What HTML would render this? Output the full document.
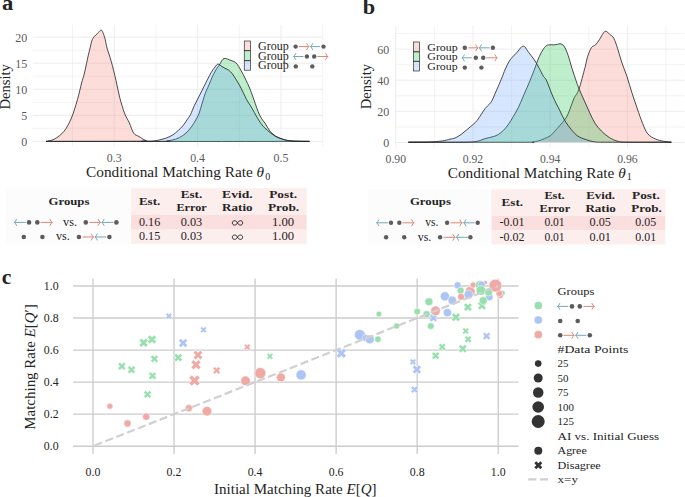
<!DOCTYPE html><html><head><meta charset="utf-8"><style>html,body{margin:0;padding:0;background:#fff;}svg{display:block;}text{font-family:"Liberation Serif",serif;}</style></head><body>
<svg width="685" height="497" viewBox="0 0 685 497" fill="#242424">
<rect width="685" height="497" fill="#fff"/>
<line x1="72.50" y1="24.8" x2="72.50" y2="147.0" stroke="#ebebeb" stroke-width="0.6"/>
<line x1="114.20" y1="24.8" x2="114.20" y2="147.0" stroke="#ebebeb" stroke-width="0.9"/>
<line x1="155.90" y1="24.8" x2="155.90" y2="147.0" stroke="#ebebeb" stroke-width="0.6"/>
<line x1="197.60" y1="24.8" x2="197.60" y2="147.0" stroke="#ebebeb" stroke-width="0.9"/>
<line x1="239.30" y1="24.8" x2="239.30" y2="147.0" stroke="#ebebeb" stroke-width="0.6"/>
<line x1="281.00" y1="24.8" x2="281.00" y2="147.0" stroke="#ebebeb" stroke-width="0.9"/>
<line x1="322.70" y1="24.8" x2="322.70" y2="147.0" stroke="#ebebeb" stroke-width="0.6"/>
<line x1="32.8" y1="141.40" x2="322.8" y2="141.40" stroke="#ebebeb" stroke-width="0.9"/>
<line x1="32.8" y1="128.38" x2="322.8" y2="128.38" stroke="#ebebeb" stroke-width="0.6"/>
<line x1="32.8" y1="115.35" x2="322.8" y2="115.35" stroke="#ebebeb" stroke-width="0.9"/>
<line x1="32.8" y1="102.33" x2="322.8" y2="102.33" stroke="#ebebeb" stroke-width="0.6"/>
<line x1="32.8" y1="89.30" x2="322.8" y2="89.30" stroke="#ebebeb" stroke-width="0.9"/>
<line x1="32.8" y1="76.28" x2="322.8" y2="76.28" stroke="#ebebeb" stroke-width="0.6"/>
<line x1="32.8" y1="63.25" x2="322.8" y2="63.25" stroke="#ebebeb" stroke-width="0.9"/>
<line x1="32.8" y1="50.23" x2="322.8" y2="50.23" stroke="#ebebeb" stroke-width="0.6"/>
<line x1="32.8" y1="37.20" x2="322.8" y2="37.20" stroke="#ebebeb" stroke-width="0.9"/>
<path d="M46.00,141.40 C47.42,141.00 51.48,140.70 54.50,139.00 C57.52,137.30 61.28,134.70 64.10,131.20 C66.92,127.70 69.18,123.23 71.40,118.00 C73.62,112.77 75.70,105.63 77.40,99.80 C79.10,93.97 80.48,87.22 81.60,83.00 C82.72,78.78 83.28,77.73 84.10,74.50 C84.92,71.27 85.80,66.82 86.50,63.60 C87.20,60.38 87.70,57.80 88.30,55.20 C88.90,52.60 89.50,50.42 90.10,48.00 C90.70,45.58 91.20,42.62 91.90,40.70 C92.60,38.78 93.35,37.72 94.30,36.50 C95.25,35.28 96.50,34.47 97.60,33.40 C98.70,32.33 100.02,30.27 100.90,30.10 C101.78,29.93 102.18,30.83 102.90,32.40 C103.62,33.97 104.52,36.90 105.20,39.50 C105.88,42.10 106.00,44.38 107.00,48.00 C108.00,51.62 109.70,55.78 111.20,61.20 C112.70,66.62 114.58,74.47 116.00,80.50 C117.42,86.53 118.28,91.97 119.70,97.40 C121.12,102.83 122.90,108.87 124.50,113.10 C126.10,117.33 127.77,119.45 129.30,122.80 C130.83,126.15 132.08,130.92 133.70,133.20 C135.32,135.48 136.92,135.27 139.00,136.50 C141.08,137.73 143.38,139.78 146.20,140.60 C149.02,141.42 128.67,141.27 155.90,141.40 C183.13,141.53 283.98,141.40 309.60,141.40 Z" fill="#F8766D" fill-opacity="0.25" stroke="none"/>
<path d="M46.00,141.40 C47.42,141.00 51.48,140.70 54.50,139.00 C57.52,137.30 61.28,134.70 64.10,131.20 C66.92,127.70 69.18,123.23 71.40,118.00 C73.62,112.77 75.70,105.63 77.40,99.80 C79.10,93.97 80.48,87.22 81.60,83.00 C82.72,78.78 83.28,77.73 84.10,74.50 C84.92,71.27 85.80,66.82 86.50,63.60 C87.20,60.38 87.70,57.80 88.30,55.20 C88.90,52.60 89.50,50.42 90.10,48.00 C90.70,45.58 91.20,42.62 91.90,40.70 C92.60,38.78 93.35,37.72 94.30,36.50 C95.25,35.28 96.50,34.47 97.60,33.40 C98.70,32.33 100.02,30.27 100.90,30.10 C101.78,29.93 102.18,30.83 102.90,32.40 C103.62,33.97 104.52,36.90 105.20,39.50 C105.88,42.10 106.00,44.38 107.00,48.00 C108.00,51.62 109.70,55.78 111.20,61.20 C112.70,66.62 114.58,74.47 116.00,80.50 C117.42,86.53 118.28,91.97 119.70,97.40 C121.12,102.83 122.90,108.87 124.50,113.10 C126.10,117.33 127.77,119.45 129.30,122.80 C130.83,126.15 132.08,130.92 133.70,133.20 C135.32,135.48 136.92,135.27 139.00,136.50 C141.08,137.73 143.38,139.78 146.20,140.60 C149.02,141.42 128.67,141.27 155.90,141.40 C183.13,141.53 283.98,141.40 309.60,141.40" fill="none" stroke="#1e1e1e" stroke-width="0.8" stroke-linejoin="round"/>
<path d="M46.00,141.40 C65.00,141.40 139.85,141.48 160.00,141.40 C180.15,141.32 164.30,141.27 166.90,140.90 C169.50,140.53 172.97,140.08 175.60,139.20 C178.23,138.32 180.80,136.78 182.70,135.60 C184.60,134.42 185.55,133.55 187.00,132.10 C188.45,130.65 189.93,128.93 191.40,126.90 C192.87,124.87 194.55,122.08 195.80,119.90 C197.05,117.72 197.98,116.12 198.90,113.80 C199.82,111.48 200.25,109.37 201.30,106.00 C202.35,102.63 203.95,97.07 205.20,93.60 C206.45,90.13 207.60,88.02 208.80,85.20 C210.00,82.38 211.18,79.32 212.40,76.70 C213.62,74.08 214.98,71.40 216.10,69.50 C217.22,67.60 218.30,66.52 219.10,65.30 C219.90,64.08 220.25,63.22 220.90,62.20 C221.55,61.18 222.27,59.83 223.00,59.20 C223.73,58.57 224.17,58.27 225.30,58.40 C226.43,58.53 228.33,59.47 229.80,60.00 C231.27,60.53 232.88,60.92 234.10,61.60 C235.32,62.28 236.10,62.88 237.10,64.10 C238.10,65.32 239.10,67.20 240.10,68.90 C241.10,70.60 242.10,72.38 243.10,74.30 C244.10,76.22 245.08,78.28 246.10,80.40 C247.12,82.52 248.18,84.58 249.20,87.00 C250.22,89.42 251.20,92.18 252.20,94.90 C253.20,97.62 254.20,100.48 255.20,103.30 C256.20,106.12 257.15,109.27 258.20,111.80 C259.25,114.33 260.33,116.57 261.50,118.50 C262.67,120.43 263.80,121.32 265.20,123.40 C266.60,125.48 268.15,128.87 269.90,131.00 C271.65,133.13 273.57,134.85 275.70,136.20 C277.83,137.55 280.17,138.32 282.70,139.10 C285.23,139.88 286.42,140.52 290.90,140.90 C295.38,141.28 306.48,141.32 309.60,141.40 Z" fill="#00BA38" fill-opacity="0.25" stroke="none"/>
<path d="M46.00,141.40 C65.00,141.40 139.85,141.48 160.00,141.40 C180.15,141.32 164.30,141.27 166.90,140.90 C169.50,140.53 172.97,140.08 175.60,139.20 C178.23,138.32 180.80,136.78 182.70,135.60 C184.60,134.42 185.55,133.55 187.00,132.10 C188.45,130.65 189.93,128.93 191.40,126.90 C192.87,124.87 194.55,122.08 195.80,119.90 C197.05,117.72 197.98,116.12 198.90,113.80 C199.82,111.48 200.25,109.37 201.30,106.00 C202.35,102.63 203.95,97.07 205.20,93.60 C206.45,90.13 207.60,88.02 208.80,85.20 C210.00,82.38 211.18,79.32 212.40,76.70 C213.62,74.08 214.98,71.40 216.10,69.50 C217.22,67.60 218.30,66.52 219.10,65.30 C219.90,64.08 220.25,63.22 220.90,62.20 C221.55,61.18 222.27,59.83 223.00,59.20 C223.73,58.57 224.17,58.27 225.30,58.40 C226.43,58.53 228.33,59.47 229.80,60.00 C231.27,60.53 232.88,60.92 234.10,61.60 C235.32,62.28 236.10,62.88 237.10,64.10 C238.10,65.32 239.10,67.20 240.10,68.90 C241.10,70.60 242.10,72.38 243.10,74.30 C244.10,76.22 245.08,78.28 246.10,80.40 C247.12,82.52 248.18,84.58 249.20,87.00 C250.22,89.42 251.20,92.18 252.20,94.90 C253.20,97.62 254.20,100.48 255.20,103.30 C256.20,106.12 257.15,109.27 258.20,111.80 C259.25,114.33 260.33,116.57 261.50,118.50 C262.67,120.43 263.80,121.32 265.20,123.40 C266.60,125.48 268.15,128.87 269.90,131.00 C271.65,133.13 273.57,134.85 275.70,136.20 C277.83,137.55 280.17,138.32 282.70,139.10 C285.23,139.88 286.42,140.52 290.90,140.90 C295.38,141.28 306.48,141.32 309.60,141.40" fill="none" stroke="#1e1e1e" stroke-width="0.8" stroke-linejoin="round"/>
<path d="M46.00,141.40 C61.67,141.38 122.03,141.38 140.00,141.30 C157.97,141.22 150.33,141.18 153.80,140.90 C157.27,140.62 158.62,140.12 160.80,139.60 C162.98,139.08 164.87,138.60 166.90,137.80 C168.93,137.00 171.10,136.03 173.00,134.80 C174.90,133.57 176.68,131.87 178.30,130.40 C179.92,128.93 181.25,127.75 182.70,126.00 C184.15,124.25 185.70,121.80 187.00,119.90 C188.30,118.00 189.28,116.97 190.50,114.60 C191.72,112.23 192.85,108.78 194.30,105.70 C195.75,102.62 197.58,99.32 199.20,96.10 C200.82,92.88 202.60,89.22 204.00,86.40 C205.40,83.58 206.40,81.52 207.60,79.20 C208.80,76.88 209.98,74.52 211.20,72.50 C212.42,70.48 213.78,68.50 214.90,67.10 C216.02,65.70 216.77,64.23 217.90,64.10 C219.03,63.97 220.52,65.60 221.70,66.30 C222.88,67.00 223.85,67.67 225.00,68.30 C226.15,68.93 227.40,69.20 228.60,70.10 C229.80,71.00 230.98,72.18 232.20,73.70 C233.42,75.22 234.68,77.28 235.90,79.20 C237.12,81.12 238.30,83.00 239.50,85.20 C240.70,87.40 241.90,89.98 243.10,92.40 C244.30,94.82 245.48,97.48 246.70,99.70 C247.92,101.92 249.18,103.68 250.40,105.70 C251.62,107.72 253.10,110.22 254.00,111.80 C254.90,113.38 254.52,113.08 255.80,115.20 C257.08,117.32 259.75,121.97 261.70,124.50 C263.65,127.03 265.55,128.65 267.50,130.40 C269.45,132.15 271.25,133.65 273.40,135.00 C275.55,136.35 277.48,137.52 280.40,138.50 C283.32,139.48 286.03,140.42 290.90,140.90 C295.77,141.38 306.48,141.32 309.60,141.40 Z" fill="#619CFF" fill-opacity="0.25" stroke="none"/>
<path d="M46.00,141.40 C61.67,141.38 122.03,141.38 140.00,141.30 C157.97,141.22 150.33,141.18 153.80,140.90 C157.27,140.62 158.62,140.12 160.80,139.60 C162.98,139.08 164.87,138.60 166.90,137.80 C168.93,137.00 171.10,136.03 173.00,134.80 C174.90,133.57 176.68,131.87 178.30,130.40 C179.92,128.93 181.25,127.75 182.70,126.00 C184.15,124.25 185.70,121.80 187.00,119.90 C188.30,118.00 189.28,116.97 190.50,114.60 C191.72,112.23 192.85,108.78 194.30,105.70 C195.75,102.62 197.58,99.32 199.20,96.10 C200.82,92.88 202.60,89.22 204.00,86.40 C205.40,83.58 206.40,81.52 207.60,79.20 C208.80,76.88 209.98,74.52 211.20,72.50 C212.42,70.48 213.78,68.50 214.90,67.10 C216.02,65.70 216.77,64.23 217.90,64.10 C219.03,63.97 220.52,65.60 221.70,66.30 C222.88,67.00 223.85,67.67 225.00,68.30 C226.15,68.93 227.40,69.20 228.60,70.10 C229.80,71.00 230.98,72.18 232.20,73.70 C233.42,75.22 234.68,77.28 235.90,79.20 C237.12,81.12 238.30,83.00 239.50,85.20 C240.70,87.40 241.90,89.98 243.10,92.40 C244.30,94.82 245.48,97.48 246.70,99.70 C247.92,101.92 249.18,103.68 250.40,105.70 C251.62,107.72 253.10,110.22 254.00,111.80 C254.90,113.38 254.52,113.08 255.80,115.20 C257.08,117.32 259.75,121.97 261.70,124.50 C263.65,127.03 265.55,128.65 267.50,130.40 C269.45,132.15 271.25,133.65 273.40,135.00 C275.55,136.35 277.48,137.52 280.40,138.50 C283.32,139.48 286.03,140.42 290.90,140.90 C295.77,141.38 306.48,141.32 309.60,141.40" fill="none" stroke="#1e1e1e" stroke-width="0.8" stroke-linejoin="round"/>
<text x="27.20" y="146.30" font-size="12" fill="#5a5a5a" text-anchor="end">0</text>
<text x="27.20" y="120.25" font-size="12" fill="#5a5a5a" text-anchor="end">5</text>
<text x="27.20" y="94.20" font-size="12" fill="#5a5a5a" text-anchor="end">10</text>
<text x="27.20" y="68.15" font-size="12" fill="#5a5a5a" text-anchor="end">15</text>
<text x="27.20" y="42.10" font-size="12" fill="#5a5a5a" text-anchor="end">20</text>
<text x="114.20" y="161.60" font-size="12" fill="#5a5a5a" text-anchor="middle" textLength="14.80" lengthAdjust="spacingAndGlyphs">0.3</text>
<text x="197.60" y="161.60" font-size="12" fill="#5a5a5a" text-anchor="middle" textLength="14.80" lengthAdjust="spacingAndGlyphs">0.4</text>
<text x="281.00" y="161.60" font-size="12" fill="#5a5a5a" text-anchor="middle" textLength="14.80" lengthAdjust="spacingAndGlyphs">0.5</text>
<text x="86.1" y="176.9" font-size="15.2" textLength="178" lengthAdjust="spacingAndGlyphs">Conditional Matching Rate <tspan font-style="italic">θ</tspan></text>
<text x="265.30" y="179.50" font-size="10" fill="#242424">0</text>
<text transform="translate(9.8,86.8) rotate(-90)" x="0" y="0" font-size="14.4" text-anchor="middle" textLength="45.2" lengthAdjust="spacingAndGlyphs">Density</text>
<text x="2.00" y="9.90" font-size="20" fill="#242424" font-weight="bold" textLength="11.30" lengthAdjust="spacingAndGlyphs">a</text>
<rect x="244.3" y="41.0" width="6.2" height="9.70" fill="#F8766D" fill-opacity="0.25" stroke="#3a3a3a" stroke-width="0.75"/>
<rect x="244.3" y="50.7" width="6.2" height="10.00" fill="#00BA38" fill-opacity="0.25" stroke="#3a3a3a" stroke-width="0.75"/>
<rect x="244.3" y="60.7" width="6.2" height="9.50" fill="#619CFF" fill-opacity="0.25" stroke="#3a3a3a" stroke-width="0.75"/>
<text x="258.10" y="49.80" font-size="11.6" fill="#242424" textLength="30.80" lengthAdjust="spacingAndGlyphs">Group</text>
<text x="258.10" y="59.60" font-size="11.6" fill="#242424" textLength="30.80" lengthAdjust="spacingAndGlyphs">Group</text>
<text x="258.10" y="68.80" font-size="11.6" fill="#242424" textLength="30.80" lengthAdjust="spacingAndGlyphs">Group</text>
<circle cx="295.60" cy="46.60" r="2.2" fill="#5c5c5c"/>
<path d="M299.10,46.60 L308.60,46.60 M306.80,43.60 Q307.85,45.70 308.90,46.60 Q307.85,47.50 306.80,49.60" fill="none" stroke="#d8715c" stroke-width="0.85" stroke-linecap="round" stroke-linejoin="round"/>
<path d="M319.70,46.60 L310.90,46.60 M312.70,43.60 Q311.65,45.70 310.60,46.60 Q311.65,47.50 312.70,49.60" fill="none" stroke="#5a97ae" stroke-width="0.85" stroke-linecap="round" stroke-linejoin="round"/>
<circle cx="323.50" cy="46.60" r="2.2" fill="#5c5c5c"/>
<path d="M303.10,56.50 L294.00,56.50 M295.80,53.50 Q294.75,55.60 293.70,56.50 Q294.75,57.40 295.80,59.50" fill="none" stroke="#5a97ae" stroke-width="0.85" stroke-linecap="round" stroke-linejoin="round"/>
<circle cx="306.90" cy="56.50" r="2.2" fill="#5c5c5c"/>
<circle cx="314.20" cy="56.50" r="2.2" fill="#5c5c5c"/>
<path d="M317.80,56.50 L327.50,56.50 M325.70,53.50 Q326.75,55.60 327.80,56.50 Q326.75,57.40 325.70,59.50" fill="none" stroke="#d8715c" stroke-width="0.85" stroke-linecap="round" stroke-linejoin="round"/>
<circle cx="295.80" cy="66.40" r="2.2" fill="#5c5c5c"/>
<circle cx="312.30" cy="66.40" r="2.2" fill="#5c5c5c"/>
<line x1="395.80" y1="25.8" x2="395.80" y2="147.7" stroke="#ebebeb" stroke-width="0.9"/>
<line x1="434.40" y1="25.8" x2="434.40" y2="147.7" stroke="#ebebeb" stroke-width="0.6"/>
<line x1="473.00" y1="25.8" x2="473.00" y2="147.7" stroke="#ebebeb" stroke-width="0.9"/>
<line x1="511.60" y1="25.8" x2="511.60" y2="147.7" stroke="#ebebeb" stroke-width="0.6"/>
<line x1="550.20" y1="25.8" x2="550.20" y2="147.7" stroke="#ebebeb" stroke-width="0.9"/>
<line x1="588.80" y1="25.8" x2="588.80" y2="147.7" stroke="#ebebeb" stroke-width="0.6"/>
<line x1="627.40" y1="25.8" x2="627.40" y2="147.7" stroke="#ebebeb" stroke-width="0.9"/>
<line x1="666.00" y1="25.8" x2="666.00" y2="147.7" stroke="#ebebeb" stroke-width="0.6"/>
<line x1="395.2" y1="142.50" x2="684.5" y2="142.50" stroke="#ebebeb" stroke-width="0.9"/>
<line x1="395.2" y1="126.93" x2="684.5" y2="126.93" stroke="#ebebeb" stroke-width="0.6"/>
<line x1="395.2" y1="111.36" x2="684.5" y2="111.36" stroke="#ebebeb" stroke-width="0.9"/>
<line x1="395.2" y1="95.79" x2="684.5" y2="95.79" stroke="#ebebeb" stroke-width="0.6"/>
<line x1="395.2" y1="80.22" x2="684.5" y2="80.22" stroke="#ebebeb" stroke-width="0.9"/>
<line x1="395.2" y1="64.65" x2="684.5" y2="64.65" stroke="#ebebeb" stroke-width="0.6"/>
<line x1="395.2" y1="49.08" x2="684.5" y2="49.08" stroke="#ebebeb" stroke-width="0.9"/>
<line x1="395.2" y1="33.51" x2="684.5" y2="33.51" stroke="#ebebeb" stroke-width="0.6"/>
<path d="M408.30,142.20 C427.25,142.20 501.27,142.23 522.00,142.20 C542.73,142.17 529.95,142.23 532.70,142.00 C535.45,141.77 536.55,141.37 538.50,140.80 C540.45,140.23 542.40,139.47 544.40,138.60 C546.40,137.73 548.77,136.83 550.50,135.60 C552.23,134.37 553.28,132.83 554.80,131.20 C556.32,129.57 557.72,128.02 559.60,125.80 C561.48,123.58 564.35,120.73 566.10,117.90 C567.85,115.07 568.78,112.07 570.10,108.80 C571.42,105.53 572.55,101.50 574.00,98.30 C575.45,95.10 576.97,94.73 578.80,89.60 C580.63,84.47 583.53,73.00 585.00,67.50 C586.47,62.00 586.52,59.93 587.60,56.60 C588.68,53.27 590.18,49.45 591.50,47.50 C592.82,45.55 594.18,46.22 595.50,44.90 C596.82,43.58 598.10,41.57 599.40,39.60 C600.70,37.63 602.22,34.48 603.30,33.10 C604.38,31.72 604.80,31.08 605.90,31.30 C607.00,31.52 608.58,33.23 609.90,34.40 C611.22,35.57 612.50,35.90 613.80,38.30 C615.10,40.70 616.40,44.87 617.70,48.80 C619.00,52.73 620.07,57.32 621.60,61.90 C623.13,66.48 625.15,71.07 626.90,76.30 C628.65,81.53 630.35,87.85 632.10,93.30 C633.85,98.75 635.65,103.98 637.40,109.00 C639.15,114.02 640.87,119.25 642.60,123.40 C644.33,127.55 645.62,131.28 647.80,133.90 C649.98,136.52 653.08,137.88 655.70,139.10 C658.32,140.32 660.88,140.68 663.50,141.20 C666.12,141.72 670.08,142.03 671.40,142.20 Z" fill="#F8766D" fill-opacity="0.25" stroke="none"/>
<path d="M408.30,142.20 C427.25,142.20 501.27,142.23 522.00,142.20 C542.73,142.17 529.95,142.23 532.70,142.00 C535.45,141.77 536.55,141.37 538.50,140.80 C540.45,140.23 542.40,139.47 544.40,138.60 C546.40,137.73 548.77,136.83 550.50,135.60 C552.23,134.37 553.28,132.83 554.80,131.20 C556.32,129.57 557.72,128.02 559.60,125.80 C561.48,123.58 564.35,120.73 566.10,117.90 C567.85,115.07 568.78,112.07 570.10,108.80 C571.42,105.53 572.55,101.50 574.00,98.30 C575.45,95.10 576.97,94.73 578.80,89.60 C580.63,84.47 583.53,73.00 585.00,67.50 C586.47,62.00 586.52,59.93 587.60,56.60 C588.68,53.27 590.18,49.45 591.50,47.50 C592.82,45.55 594.18,46.22 595.50,44.90 C596.82,43.58 598.10,41.57 599.40,39.60 C600.70,37.63 602.22,34.48 603.30,33.10 C604.38,31.72 604.80,31.08 605.90,31.30 C607.00,31.52 608.58,33.23 609.90,34.40 C611.22,35.57 612.50,35.90 613.80,38.30 C615.10,40.70 616.40,44.87 617.70,48.80 C619.00,52.73 620.07,57.32 621.60,61.90 C623.13,66.48 625.15,71.07 626.90,76.30 C628.65,81.53 630.35,87.85 632.10,93.30 C633.85,98.75 635.65,103.98 637.40,109.00 C639.15,114.02 640.87,119.25 642.60,123.40 C644.33,127.55 645.62,131.28 647.80,133.90 C649.98,136.52 653.08,137.88 655.70,139.10 C658.32,140.32 660.88,140.68 663.50,141.20 C666.12,141.72 670.08,142.03 671.40,142.20" fill="none" stroke="#1e1e1e" stroke-width="0.8" stroke-linejoin="round"/>
<path d="M408.30,142.20 C416.15,142.20 444.27,142.30 455.40,142.20 C466.53,142.10 470.13,142.20 475.10,141.60 C480.07,141.00 482.18,139.43 485.20,138.60 C488.22,137.77 491.02,137.28 493.20,136.60 C495.38,135.92 496.62,135.52 498.30,134.50 C499.98,133.48 501.63,132.17 503.30,130.50 C504.97,128.83 506.62,126.85 508.30,124.50 C509.98,122.15 511.72,119.25 513.40,116.40 C515.08,113.55 516.90,110.42 518.40,107.40 C519.90,104.38 521.22,101.03 522.40,98.30 C523.58,95.57 524.43,93.47 525.50,91.00 C526.57,88.53 527.38,86.92 528.80,83.50 C530.22,80.08 532.25,74.98 534.00,70.50 C535.75,66.02 537.55,60.43 539.30,56.60 C541.05,52.77 542.98,49.45 544.50,47.50 C546.02,45.55 546.87,45.33 548.40,44.90 C549.93,44.47 552.18,45.00 553.70,44.90 C555.22,44.80 556.42,44.48 557.50,44.30 C558.58,44.12 559.10,43.48 560.20,43.80 C561.30,44.12 562.78,44.28 564.10,46.20 C565.42,48.12 566.78,51.60 568.10,55.30 C569.42,59.00 570.70,64.25 572.00,68.40 C573.30,72.55 574.70,76.73 575.90,80.20 C577.10,83.67 577.78,85.75 579.20,89.20 C580.62,92.65 582.65,96.98 584.40,100.90 C586.15,104.82 587.95,109.00 589.70,112.70 C591.45,116.40 592.95,120.05 594.90,123.10 C596.85,126.15 599.00,128.60 601.40,131.00 C603.80,133.40 606.47,135.77 609.30,137.50 C612.13,139.23 615.03,140.62 618.40,141.40 C621.77,142.18 620.67,142.07 629.50,142.20 C638.33,142.33 664.42,142.20 671.40,142.20 Z" fill="#00BA38" fill-opacity="0.25" stroke="none"/>
<path d="M408.30,142.20 C416.15,142.20 444.27,142.30 455.40,142.20 C466.53,142.10 470.13,142.20 475.10,141.60 C480.07,141.00 482.18,139.43 485.20,138.60 C488.22,137.77 491.02,137.28 493.20,136.60 C495.38,135.92 496.62,135.52 498.30,134.50 C499.98,133.48 501.63,132.17 503.30,130.50 C504.97,128.83 506.62,126.85 508.30,124.50 C509.98,122.15 511.72,119.25 513.40,116.40 C515.08,113.55 516.90,110.42 518.40,107.40 C519.90,104.38 521.22,101.03 522.40,98.30 C523.58,95.57 524.43,93.47 525.50,91.00 C526.57,88.53 527.38,86.92 528.80,83.50 C530.22,80.08 532.25,74.98 534.00,70.50 C535.75,66.02 537.55,60.43 539.30,56.60 C541.05,52.77 542.98,49.45 544.50,47.50 C546.02,45.55 546.87,45.33 548.40,44.90 C549.93,44.47 552.18,45.00 553.70,44.90 C555.22,44.80 556.42,44.48 557.50,44.30 C558.58,44.12 559.10,43.48 560.20,43.80 C561.30,44.12 562.78,44.28 564.10,46.20 C565.42,48.12 566.78,51.60 568.10,55.30 C569.42,59.00 570.70,64.25 572.00,68.40 C573.30,72.55 574.70,76.73 575.90,80.20 C577.10,83.67 577.78,85.75 579.20,89.20 C580.62,92.65 582.65,96.98 584.40,100.90 C586.15,104.82 587.95,109.00 589.70,112.70 C591.45,116.40 592.95,120.05 594.90,123.10 C596.85,126.15 599.00,128.60 601.40,131.00 C603.80,133.40 606.47,135.77 609.30,137.50 C612.13,139.23 615.03,140.62 618.40,141.40 C621.77,142.18 620.67,142.07 629.50,142.20 C638.33,142.33 664.42,142.20 671.40,142.20" fill="none" stroke="#1e1e1e" stroke-width="0.8" stroke-linejoin="round"/>
<path d="M408.30,142.20 C411.80,142.17 423.63,142.22 429.30,142.00 C434.97,141.78 438.85,141.37 442.30,140.90 C445.75,140.43 447.88,139.68 450.00,139.20 C452.12,138.72 453.17,138.78 455.00,138.00 C456.83,137.22 458.98,135.92 461.00,134.50 C463.02,133.08 465.08,131.17 467.10,129.50 C469.12,127.83 471.43,126.00 473.10,124.50 C474.77,123.00 475.75,122.18 477.10,120.50 C478.45,118.82 479.85,116.42 481.20,114.40 C482.55,112.38 483.87,110.07 485.20,108.40 C486.53,106.73 488.03,105.75 489.20,104.40 C490.37,103.05 491.20,102.15 492.20,100.30 C493.20,98.45 494.18,95.65 495.20,93.30 C496.22,90.95 497.28,88.55 498.30,86.20 C499.32,83.85 500.13,82.05 501.30,79.20 C502.47,76.35 503.97,72.12 505.30,69.10 C506.63,66.08 507.95,63.27 509.30,61.10 C510.65,58.93 512.05,57.62 513.40,56.10 C514.75,54.58 516.20,53.38 517.40,52.00 C518.60,50.62 519.73,48.75 520.60,47.80 C521.47,46.85 521.88,46.45 522.60,46.30 C523.32,46.15 523.87,45.83 524.90,46.90 C525.93,47.97 527.28,50.63 528.80,52.70 C530.32,54.77 532.25,56.68 534.00,59.30 C535.75,61.92 537.77,65.62 539.30,68.40 C540.83,71.18 542.00,73.98 543.20,76.00 C544.40,78.02 544.85,77.00 546.50,80.50 C548.15,84.00 550.92,92.07 553.10,97.00 C555.28,101.93 557.65,106.18 559.60,110.10 C561.55,114.02 562.83,117.23 564.80,120.50 C566.77,123.77 569.22,127.08 571.40,129.70 C573.58,132.32 575.50,134.57 577.90,136.20 C580.30,137.83 582.97,138.55 585.80,139.50 C588.63,140.45 590.87,141.45 594.90,141.90 C598.93,142.35 597.25,142.15 610.00,142.20 C622.75,142.25 661.17,142.20 671.40,142.20 Z" fill="#619CFF" fill-opacity="0.25" stroke="none"/>
<path d="M408.30,142.20 C411.80,142.17 423.63,142.22 429.30,142.00 C434.97,141.78 438.85,141.37 442.30,140.90 C445.75,140.43 447.88,139.68 450.00,139.20 C452.12,138.72 453.17,138.78 455.00,138.00 C456.83,137.22 458.98,135.92 461.00,134.50 C463.02,133.08 465.08,131.17 467.10,129.50 C469.12,127.83 471.43,126.00 473.10,124.50 C474.77,123.00 475.75,122.18 477.10,120.50 C478.45,118.82 479.85,116.42 481.20,114.40 C482.55,112.38 483.87,110.07 485.20,108.40 C486.53,106.73 488.03,105.75 489.20,104.40 C490.37,103.05 491.20,102.15 492.20,100.30 C493.20,98.45 494.18,95.65 495.20,93.30 C496.22,90.95 497.28,88.55 498.30,86.20 C499.32,83.85 500.13,82.05 501.30,79.20 C502.47,76.35 503.97,72.12 505.30,69.10 C506.63,66.08 507.95,63.27 509.30,61.10 C510.65,58.93 512.05,57.62 513.40,56.10 C514.75,54.58 516.20,53.38 517.40,52.00 C518.60,50.62 519.73,48.75 520.60,47.80 C521.47,46.85 521.88,46.45 522.60,46.30 C523.32,46.15 523.87,45.83 524.90,46.90 C525.93,47.97 527.28,50.63 528.80,52.70 C530.32,54.77 532.25,56.68 534.00,59.30 C535.75,61.92 537.77,65.62 539.30,68.40 C540.83,71.18 542.00,73.98 543.20,76.00 C544.40,78.02 544.85,77.00 546.50,80.50 C548.15,84.00 550.92,92.07 553.10,97.00 C555.28,101.93 557.65,106.18 559.60,110.10 C561.55,114.02 562.83,117.23 564.80,120.50 C566.77,123.77 569.22,127.08 571.40,129.70 C573.58,132.32 575.50,134.57 577.90,136.20 C580.30,137.83 582.97,138.55 585.80,139.50 C588.63,140.45 590.87,141.45 594.90,141.90 C598.93,142.35 597.25,142.15 610.00,142.20 C622.75,142.25 661.17,142.20 671.40,142.20" fill="none" stroke="#1e1e1e" stroke-width="0.8" stroke-linejoin="round"/>
<text x="389.20" y="147.10" font-size="12" fill="#5a5a5a" text-anchor="end">0</text>
<text x="389.20" y="115.96" font-size="12" fill="#5a5a5a" text-anchor="end">20</text>
<text x="389.20" y="84.82" font-size="12" fill="#5a5a5a" text-anchor="end">40</text>
<text x="389.20" y="53.68" font-size="12" fill="#5a5a5a" text-anchor="end">60</text>
<text x="395.80" y="162.80" font-size="11.8" fill="#5a5a5a" text-anchor="middle" textLength="20.40" lengthAdjust="spacingAndGlyphs">0.90</text>
<text x="473.00" y="162.80" font-size="11.8" fill="#5a5a5a" text-anchor="middle" textLength="20.40" lengthAdjust="spacingAndGlyphs">0.92</text>
<text x="550.20" y="162.80" font-size="11.8" fill="#5a5a5a" text-anchor="middle" textLength="20.40" lengthAdjust="spacingAndGlyphs">0.94</text>
<text x="627.40" y="162.80" font-size="11.8" fill="#5a5a5a" text-anchor="middle" textLength="20.40" lengthAdjust="spacingAndGlyphs">0.96</text>
<text x="447.7" y="177.5" font-size="15.2" textLength="178" lengthAdjust="spacingAndGlyphs">Conditional Matching Rate <tspan font-style="italic">θ</tspan></text>
<text x="626.80" y="180.10" font-size="10" fill="#242424">1</text>
<text transform="translate(371.2,86.6) rotate(-90)" x="0" y="0" font-size="14.4" text-anchor="middle" textLength="45.2" lengthAdjust="spacingAndGlyphs">Density</text>
<text x="362.80" y="14.10" font-size="20" fill="#242424" font-weight="bold" textLength="12.40" lengthAdjust="spacingAndGlyphs">b</text>
<rect x="413.6" y="42.0" width="6.0" height="9.80" fill="#F8766D" fill-opacity="0.25" stroke="#3a3a3a" stroke-width="0.75"/>
<rect x="413.6" y="51.8" width="6.0" height="9.50" fill="#00BA38" fill-opacity="0.25" stroke="#3a3a3a" stroke-width="0.75"/>
<rect x="413.6" y="61.3" width="6.0" height="9.70" fill="#619CFF" fill-opacity="0.25" stroke="#3a3a3a" stroke-width="0.75"/>
<text x="427.30" y="50.70" font-size="11.4" fill="#242424" textLength="30.40" lengthAdjust="spacingAndGlyphs">Group</text>
<text x="427.30" y="60.20" font-size="11.4" fill="#242424" textLength="30.40" lengthAdjust="spacingAndGlyphs">Group</text>
<text x="427.30" y="69.60" font-size="11.4" fill="#242424" textLength="30.40" lengthAdjust="spacingAndGlyphs">Group</text>
<circle cx="464.80" cy="47.80" r="2.2" fill="#5c5c5c"/>
<path d="M468.70,47.80 L477.60,47.80 M475.80,44.80 Q476.85,46.90 477.90,47.80 Q476.85,48.70 475.80,50.80" fill="none" stroke="#d8715c" stroke-width="0.85" stroke-linecap="round" stroke-linejoin="round"/>
<path d="M489.20,47.80 L479.60,47.80 M481.40,44.80 Q480.35,46.90 479.30,47.80 Q480.35,48.70 481.40,50.80" fill="none" stroke="#5a97ae" stroke-width="0.85" stroke-linecap="round" stroke-linejoin="round"/>
<circle cx="492.90" cy="47.80" r="2.2" fill="#5c5c5c"/>
<path d="M471.40,57.80 L462.50,57.80 M464.30,54.80 Q463.25,56.90 462.20,57.80 Q463.25,58.70 464.30,60.80" fill="none" stroke="#5a97ae" stroke-width="0.85" stroke-linecap="round" stroke-linejoin="round"/>
<circle cx="475.80" cy="57.80" r="2.2" fill="#5c5c5c"/>
<circle cx="483.20" cy="57.80" r="2.2" fill="#5c5c5c"/>
<path d="M486.60,57.80 L496.80,57.80 M495.00,54.80 Q496.05,56.90 497.10,57.80 Q496.05,58.70 495.00,60.80" fill="none" stroke="#d8715c" stroke-width="0.85" stroke-linecap="round" stroke-linejoin="round"/>
<circle cx="464.80" cy="67.60" r="2.2" fill="#5c5c5c"/>
<circle cx="481.40" cy="67.60" r="2.2" fill="#5c5c5c"/>
<rect x="6.1" y="188" width="300.6" height="55.8" fill="#fcfcfc"/>
<rect x="368.2" y="189.2" width="297" height="54.3" fill="#fcfcfc"/>
<rect x="131.1" y="188.2" width="175.60" height="26.80" fill="#fdeeee"/>
<rect x="131.1" y="215.0" width="175.60" height="14.60" fill="#fbdede"/>
<rect x="131.1" y="229.6" width="175.60" height="14.20" fill="#fdeeee"/>
<rect x="491.6" y="189.2" width="173.70" height="26.80" fill="#fdeeee"/>
<rect x="491.6" y="216.0" width="173.70" height="14.30" fill="#fbdede"/>
<rect x="491.6" y="230.3" width="173.70" height="14.30" fill="#fdeeee"/>
<text x="48.60" y="204.80" font-size="11.2" fill="#242424" font-weight="bold" textLength="40.80" lengthAdjust="spacingAndGlyphs">Groups</text>
<text x="139.00" y="204.70" font-size="11.2" fill="#242424" font-weight="bold" textLength="21.20" lengthAdjust="spacingAndGlyphs">Est.</text>
<text x="180.70" y="198.10" font-size="11.2" fill="#242424" font-weight="bold" textLength="21.50" lengthAdjust="spacingAndGlyphs">Est.</text>
<text x="176.50" y="211.30" font-size="11.2" fill="#242424" font-weight="bold" textLength="30.10" lengthAdjust="spacingAndGlyphs">Error</text>
<text x="222.10" y="198.10" font-size="11.2" fill="#242424" font-weight="bold" textLength="30.50" lengthAdjust="spacingAndGlyphs">Evid.</text>
<text x="222.10" y="211.30" font-size="11.2" fill="#242424" font-weight="bold" textLength="30.50" lengthAdjust="spacingAndGlyphs">Ratio</text>
<text x="269.20" y="198.10" font-size="11.2" fill="#242424" font-weight="bold" textLength="27.80" lengthAdjust="spacingAndGlyphs">Post.</text>
<text x="267.90" y="211.30" font-size="11.2" fill="#242424" font-weight="bold" textLength="31.30" lengthAdjust="spacingAndGlyphs">Prob.</text>
<text x="139.00" y="225.60" font-size="12" fill="#242424" textLength="21.20" lengthAdjust="spacingAndGlyphs">0.16</text>
<text x="180.70" y="225.60" font-size="12" fill="#242424" textLength="21.50" lengthAdjust="spacingAndGlyphs">0.03</text>
<path d="M237.5,222.9 C238.7,220.0 242.65,220.0 242.65,222.9 C242.65,225.8 238.7,225.8 237.5,222.9 C236.3,220.0 232.35,220.0 232.35,222.9 C232.35,225.8 236.3,225.8 237.5,222.9 Z" fill="none" stroke="#111" stroke-width="0.85"/>
<text x="272.00" y="225.60" font-size="12" fill="#242424" textLength="22.20" lengthAdjust="spacingAndGlyphs">1.00</text>
<text x="139.00" y="239.90" font-size="12" fill="#242424" textLength="21.20" lengthAdjust="spacingAndGlyphs">0.15</text>
<text x="180.70" y="239.90" font-size="12" fill="#242424" textLength="21.50" lengthAdjust="spacingAndGlyphs">0.03</text>
<path d="M237.5,237.20000000000002 C238.7,234.3 242.65,234.3 242.65,237.20000000000002 C242.65,240.10000000000002 238.7,240.10000000000002 237.5,237.20000000000002 C236.3,234.3 232.35,234.3 232.35,237.20000000000002 C232.35,240.10000000000002 236.3,240.10000000000002 237.5,237.20000000000002 Z" fill="none" stroke="#111" stroke-width="0.85"/>
<text x="272.00" y="239.90" font-size="12" fill="#242424" textLength="22.20" lengthAdjust="spacingAndGlyphs">1.00</text>
<path d="M25.40,222.40 L14.70,222.40 M16.50,219.40 Q15.45,221.50 14.40,222.40 Q15.45,223.30 16.50,225.40" fill="none" stroke="#5a97ae" stroke-width="0.85" stroke-linecap="round" stroke-linejoin="round"/>
<circle cx="29.05" cy="222.40" r="2.3" fill="#5c5c5c"/>
<circle cx="37.30" cy="222.40" r="2.3" fill="#5c5c5c"/>
<path d="M40.90,222.40 L51.80,222.40 M50.00,219.40 Q51.05,221.50 52.10,222.40 Q51.05,223.30 50.00,225.40" fill="none" stroke="#d8715c" stroke-width="0.85" stroke-linecap="round" stroke-linejoin="round"/>
<text x="63.00" y="225.60" font-size="12" fill="#242424" textLength="14.00" lengthAdjust="spacingAndGlyphs">vs.</text>
<circle cx="85.80" cy="222.40" r="2.3" fill="#5c5c5c"/>
<path d="M89.90,222.40 L100.00,222.40 M98.20,219.40 Q99.25,221.50 100.30,222.40 Q99.25,223.30 98.20,225.40" fill="none" stroke="#d8715c" stroke-width="0.85" stroke-linecap="round" stroke-linejoin="round"/>
<path d="M113.10,222.40 L102.20,222.40 M104.00,219.40 Q102.95,221.50 101.90,222.40 Q102.95,223.30 104.00,225.40" fill="none" stroke="#5a97ae" stroke-width="0.85" stroke-linecap="round" stroke-linejoin="round"/>
<circle cx="116.40" cy="222.40" r="2.3" fill="#5c5c5c"/>
<circle cx="23.80" cy="237.00" r="2.3" fill="#5c5c5c"/>
<circle cx="42.40" cy="237.00" r="2.3" fill="#5c5c5c"/>
<text x="56.10" y="240.00" font-size="12" fill="#242424" textLength="13.70" lengthAdjust="spacingAndGlyphs">vs.</text>
<circle cx="78.90" cy="237.00" r="2.3" fill="#5c5c5c"/>
<path d="M83.00,237.00 L93.20,237.00 M91.40,234.00 Q92.45,236.10 93.50,237.00 Q92.45,237.90 91.40,240.00" fill="none" stroke="#d8715c" stroke-width="0.85" stroke-linecap="round" stroke-linejoin="round"/>
<path d="M105.90,237.00 L95.50,237.00 M97.30,234.00 Q96.25,236.10 95.20,237.00 Q96.25,237.90 97.30,240.00" fill="none" stroke="#5a97ae" stroke-width="0.85" stroke-linecap="round" stroke-linejoin="round"/>
<circle cx="109.40" cy="237.00" r="2.3" fill="#5c5c5c"/>
<text x="409.90" y="205.40" font-size="11.2" fill="#242424" font-weight="bold" textLength="41.00" lengthAdjust="spacingAndGlyphs">Groups</text>
<text x="501.60" y="205.60" font-size="11.2" fill="#242424" font-weight="bold" textLength="21.40" lengthAdjust="spacingAndGlyphs">Est.</text>
<text x="544.40" y="199.00" font-size="11.2" fill="#242424" font-weight="bold" textLength="20.20" lengthAdjust="spacingAndGlyphs">Est.</text>
<text x="539.60" y="212.00" font-size="11.2" fill="#242424" font-weight="bold" textLength="30.60" lengthAdjust="spacingAndGlyphs">Error</text>
<text x="586.20" y="199.00" font-size="11.2" fill="#242424" font-weight="bold" textLength="28.90" lengthAdjust="spacingAndGlyphs">Evid.</text>
<text x="585.40" y="212.00" font-size="11.2" fill="#242424" font-weight="bold" textLength="30.50" lengthAdjust="spacingAndGlyphs">Ratio</text>
<text x="632.00" y="199.00" font-size="11.2" fill="#242424" font-weight="bold" textLength="27.80" lengthAdjust="spacingAndGlyphs">Post.</text>
<text x="631.20" y="212.00" font-size="11.2" fill="#242424" font-weight="bold" textLength="30.50" lengthAdjust="spacingAndGlyphs">Prob.</text>
<text x="499.40" y="226.30" font-size="12" fill="#242424" textLength="25.00" lengthAdjust="spacingAndGlyphs">-0.01</text>
<text x="544.40" y="226.30" font-size="12" fill="#242424" textLength="20.20" lengthAdjust="spacingAndGlyphs">0.01</text>
<text x="589.60" y="226.30" font-size="12" fill="#242424" textLength="21.30" lengthAdjust="spacingAndGlyphs">0.05</text>
<text x="635.30" y="226.30" font-size="12" fill="#242424" textLength="20.80" lengthAdjust="spacingAndGlyphs">0.05</text>
<text x="499.40" y="240.80" font-size="12" fill="#242424" textLength="25.00" lengthAdjust="spacingAndGlyphs">-0.02</text>
<text x="544.40" y="240.80" font-size="12" fill="#242424" textLength="20.20" lengthAdjust="spacingAndGlyphs">0.01</text>
<text x="589.60" y="240.80" font-size="12" fill="#242424" textLength="21.30" lengthAdjust="spacingAndGlyphs">0.01</text>
<text x="635.30" y="240.80" font-size="12" fill="#242424" textLength="20.80" lengthAdjust="spacingAndGlyphs">0.01</text>
<path d="M387.50,222.80 L377.00,222.80 M378.80,219.80 Q377.75,221.90 376.70,222.80 Q377.75,223.70 378.80,225.80" fill="none" stroke="#5a97ae" stroke-width="0.85" stroke-linecap="round" stroke-linejoin="round"/>
<circle cx="391.00" cy="222.80" r="2.2" fill="#5c5c5c"/>
<circle cx="399.30" cy="222.80" r="2.2" fill="#5c5c5c"/>
<path d="M402.90,222.80 L413.50,222.80 M411.70,219.80 Q412.75,221.90 413.80,222.80 Q412.75,223.70 411.70,225.80" fill="none" stroke="#d8715c" stroke-width="0.85" stroke-linecap="round" stroke-linejoin="round"/>
<text x="425.20" y="226.30" font-size="12" fill="#242424" textLength="13.10" lengthAdjust="spacingAndGlyphs">vs.</text>
<circle cx="447.10" cy="222.80" r="2.2" fill="#5c5c5c"/>
<path d="M450.90,222.80 L461.70,222.80 M459.90,219.80 Q460.95,221.90 462.00,222.80 Q460.95,223.70 459.90,225.80" fill="none" stroke="#d8715c" stroke-width="0.85" stroke-linecap="round" stroke-linejoin="round"/>
<path d="M474.20,222.80 L464.00,222.80 M465.80,219.80 Q464.75,221.90 463.70,222.80 Q464.75,223.70 465.80,225.80" fill="none" stroke="#5a97ae" stroke-width="0.85" stroke-linecap="round" stroke-linejoin="round"/>
<circle cx="477.70" cy="222.80" r="2.2" fill="#5c5c5c"/>
<circle cx="386.10" cy="237.30" r="2.2" fill="#5c5c5c"/>
<circle cx="404.20" cy="237.30" r="2.2" fill="#5c5c5c"/>
<text x="417.70" y="240.80" font-size="12" fill="#242424" textLength="13.60" lengthAdjust="spacingAndGlyphs">vs.</text>
<circle cx="440.10" cy="237.30" r="2.2" fill="#5c5c5c"/>
<path d="M443.90,237.30 L454.70,237.30 M452.90,234.30 Q453.95,236.40 455.00,237.30 Q453.95,238.20 452.90,240.30" fill="none" stroke="#d8715c" stroke-width="0.85" stroke-linecap="round" stroke-linejoin="round"/>
<path d="M467.20,237.30 L456.70,237.30 M458.50,234.30 Q457.45,236.40 456.40,237.30 Q457.45,238.20 458.50,240.30" fill="none" stroke="#5a97ae" stroke-width="0.85" stroke-linecap="round" stroke-linejoin="round"/>
<circle cx="470.40" cy="237.30" r="2.2" fill="#5c5c5c"/>
<line x1="93.00" y1="278.4" x2="93.00" y2="454.0" stroke="#cccccc" stroke-width="1.35"/>
<line x1="73.0" y1="446.20" x2="518.6" y2="446.20" stroke="#cccccc" stroke-width="1.35"/>
<line x1="174.04" y1="278.4" x2="174.04" y2="454.0" stroke="#cccccc" stroke-width="1.35"/>
<line x1="73.0" y1="414.16" x2="518.6" y2="414.16" stroke="#cccccc" stroke-width="1.35"/>
<line x1="255.08" y1="278.4" x2="255.08" y2="454.0" stroke="#cccccc" stroke-width="1.35"/>
<line x1="73.0" y1="382.12" x2="518.6" y2="382.12" stroke="#cccccc" stroke-width="1.35"/>
<line x1="336.12" y1="278.4" x2="336.12" y2="454.0" stroke="#cccccc" stroke-width="1.35"/>
<line x1="73.0" y1="350.08" x2="518.6" y2="350.08" stroke="#cccccc" stroke-width="1.35"/>
<line x1="417.16" y1="278.4" x2="417.16" y2="454.0" stroke="#cccccc" stroke-width="1.35"/>
<line x1="73.0" y1="318.04" x2="518.6" y2="318.04" stroke="#cccccc" stroke-width="1.35"/>
<line x1="498.20" y1="278.4" x2="498.20" y2="454.0" stroke="#cccccc" stroke-width="1.35"/>
<line x1="73.0" y1="286.00" x2="518.6" y2="286.00" stroke="#cccccc" stroke-width="1.35"/>
<path d="M123.89,366.30 L125.88,368.29 L123.89,370.28 L121.90,368.29 L119.91,370.28 L117.92,368.29 L119.91,366.30 L117.92,364.31 L119.91,362.32 L121.90,364.31 L123.89,362.32 L125.88,364.31 Z" fill="#98dfae" stroke="#fff" stroke-width="0.5"/>
<path d="M133.49,369.80 L135.48,371.79 L133.49,373.78 L131.50,371.79 L129.51,373.78 L127.52,371.79 L129.51,369.80 L127.52,367.81 L129.51,365.82 L131.50,367.81 L133.49,365.82 L135.48,367.81 Z" fill="#98dfae" stroke="#fff" stroke-width="0.5"/>
<path d="M145.84,342.80 L148.08,345.04 L145.84,347.28 L143.60,345.04 L141.36,347.28 L139.12,345.04 L141.36,342.80 L139.12,340.56 L141.36,338.32 L143.60,340.56 L145.84,338.32 L148.08,340.56 Z" fill="#98dfae" stroke="#fff" stroke-width="0.5"/>
<path d="M154.24,339.60 L156.48,341.84 L154.24,344.08 L152.00,341.84 L149.76,344.08 L147.52,341.84 L149.76,339.60 L147.52,337.36 L149.76,335.12 L152.00,337.36 L154.24,335.12 L156.48,337.36 Z" fill="#98dfae" stroke="#fff" stroke-width="0.5"/>
<path d="M156.36,358.90 L158.32,360.86 L156.36,362.82 L154.40,360.86 L152.44,362.82 L150.48,360.86 L152.44,358.90 L150.48,356.94 L152.44,354.98 L154.40,356.94 L156.36,354.98 L158.32,356.94 Z" fill="#98dfae" stroke="#fff" stroke-width="0.5"/>
<path d="M154.46,375.80 L156.42,377.76 L154.46,379.72 L152.50,377.76 L150.54,379.72 L148.58,377.76 L150.54,375.80 L148.58,373.84 L150.54,371.88 L152.50,373.84 L154.46,371.88 L156.42,373.84 Z" fill="#98dfae" stroke="#fff" stroke-width="0.5"/>
<path d="M149.56,394.40 L151.52,396.36 L149.56,398.32 L147.60,396.36 L145.64,398.32 L143.68,396.36 L145.64,394.40 L143.68,392.44 L145.64,390.48 L147.60,392.44 L149.56,390.48 L151.52,392.44 Z" fill="#98dfae" stroke="#fff" stroke-width="0.5"/>
<path d="M180.30,357.60 L182.40,359.70 L180.30,361.80 L178.20,359.70 L176.10,361.80 L174.00,359.70 L176.10,357.60 L174.00,355.50 L176.10,353.40 L178.20,355.50 L180.30,353.40 L182.40,355.50 Z" fill="#98dfae" stroke="#fff" stroke-width="0.5"/>
<path d="M271.62,356.30 L273.25,357.92 L271.62,359.55 L270.00,357.92 L268.38,359.55 L266.75,357.92 L268.38,356.30 L266.75,354.68 L268.38,353.05 L270.00,354.68 L271.62,353.05 L273.25,354.68 Z" fill="#98dfae" stroke="#fff" stroke-width="0.5"/>
<path d="M470.00,307.20 L472.10,309.30 L470.00,311.40 L467.90,309.30 L465.80,311.40 L463.70,309.30 L465.80,307.20 L463.70,305.10 L465.80,303.00 L467.90,305.10 L470.00,303.00 L472.10,305.10 Z" fill="#98dfae" stroke="#fff" stroke-width="0.5"/>
<path d="M484.10,305.70 L486.20,307.80 L484.10,309.90 L482.00,307.80 L479.90,309.90 L477.80,307.80 L479.90,305.70 L477.80,303.60 L479.90,301.50 L482.00,303.60 L484.10,301.50 L486.20,303.60 Z" fill="#98dfae" stroke="#fff" stroke-width="0.5"/>
<path d="M467.38,331.00 L469.06,332.68 L467.38,334.36 L465.70,332.68 L464.02,334.36 L462.34,332.68 L464.02,331.00 L462.34,329.32 L464.02,327.64 L465.70,329.32 L467.38,327.64 L469.06,329.32 Z" fill="#98dfae" stroke="#fff" stroke-width="0.5"/>
<path d="M469.92,339.30 L471.74,341.12 L469.92,342.94 L468.10,341.12 L466.28,342.94 L464.46,341.12 L466.28,339.30 L464.46,337.48 L466.28,335.66 L468.10,337.48 L469.92,335.66 L471.74,337.48 Z" fill="#98dfae" stroke="#fff" stroke-width="0.5"/>
<path d="M444.02,346.90 L445.84,348.72 L444.02,350.54 L442.20,348.72 L440.38,350.54 L438.56,348.72 L440.38,346.90 L438.56,345.08 L440.38,343.26 L442.20,345.08 L444.02,343.26 L445.84,345.08 Z" fill="#98dfae" stroke="#fff" stroke-width="0.5"/>
<path d="M464.90,348.70 L467.00,350.80 L464.90,352.90 L462.80,350.80 L460.70,352.90 L458.60,350.80 L460.70,348.70 L458.60,346.60 L460.70,344.50 L462.80,346.60 L464.90,344.50 L467.00,346.60 Z" fill="#98dfae" stroke="#fff" stroke-width="0.5"/>
<path d="M437.66,355.70 L439.62,357.66 L437.66,359.62 L435.70,357.66 L433.74,359.62 L431.78,357.66 L433.74,355.70 L431.78,353.74 L433.74,351.78 L435.70,353.74 L437.66,351.78 L439.62,353.74 Z" fill="#98dfae" stroke="#fff" stroke-width="0.5"/>
<path d="M170.52,316.10 L172.15,317.72 L170.52,319.35 L168.90,317.72 L167.28,319.35 L165.65,317.72 L167.28,316.10 L165.65,314.48 L167.28,312.85 L168.90,314.48 L170.52,312.85 L172.15,314.48 Z" fill="#adc5f5" stroke="#fff" stroke-width="0.5"/>
<path d="M185.34,343.10 L187.58,345.34 L185.34,347.58 L183.10,345.34 L180.86,347.58 L178.62,345.34 L180.86,343.10 L178.62,340.86 L180.86,338.62 L183.10,340.86 L185.34,338.62 L187.58,340.86 Z" fill="#adc5f5" stroke="#fff" stroke-width="0.5"/>
<path d="M205.12,329.80 L206.75,331.42 L205.12,333.05 L203.50,331.42 L201.88,333.05 L200.25,331.42 L201.88,329.80 L200.25,328.18 L201.88,326.55 L203.50,328.18 L205.12,326.55 L206.75,328.18 Z" fill="#adc5f5" stroke="#fff" stroke-width="0.5"/>
<path d="M343.79,353.30 L346.28,355.79 L343.79,358.28 L341.30,355.79 L338.81,358.28 L336.32,355.79 L338.81,353.30 L336.32,350.81 L338.81,348.32 L341.30,350.81 L343.79,348.32 L346.28,350.81 Z" fill="#adc5f5" stroke="#fff" stroke-width="0.5"/>
<path d="M435.36,318.00 L437.32,319.96 L435.36,321.92 L433.40,319.96 L431.44,321.92 L429.48,319.96 L431.44,318.00 L429.48,316.04 L431.44,314.08 L433.40,316.04 L435.36,314.08 L437.32,316.04 Z" fill="#adc5f5" stroke="#fff" stroke-width="0.5"/>
<path d="M488.56,336.10 L490.52,338.06 L488.56,340.02 L486.60,338.06 L484.64,340.02 L482.68,338.06 L484.64,336.10 L482.68,334.14 L484.64,332.18 L486.60,334.14 L488.56,332.18 L490.52,334.14 Z" fill="#adc5f5" stroke="#fff" stroke-width="0.5"/>
<path d="M414.52,361.90 L416.15,363.52 L414.52,365.15 L412.90,363.52 L411.28,365.15 L409.65,363.52 L411.28,361.90 L409.65,360.28 L411.28,358.65 L412.90,360.28 L414.52,358.65 L416.15,360.28 Z" fill="#adc5f5" stroke="#fff" stroke-width="0.5"/>
<path d="M419.14,369.40 L421.38,371.64 L419.14,373.88 L416.90,371.64 L414.66,373.88 L412.42,371.64 L414.66,369.40 L412.42,367.16 L414.66,364.92 L416.90,367.16 L419.14,364.92 L421.38,367.16 Z" fill="#adc5f5" stroke="#fff" stroke-width="0.5"/>
<path d="M416.32,389.60 L418.14,391.42 L416.32,393.24 L414.50,391.42 L412.68,393.24 L410.86,391.42 L412.68,389.60 L410.86,387.78 L412.68,385.96 L414.50,387.78 L416.32,385.96 L418.14,387.78 Z" fill="#adc5f5" stroke="#fff" stroke-width="0.5"/>
<path d="M200.35,355.00 L202.70,357.35 L200.35,359.70 L198.00,357.35 L195.65,359.70 L193.30,357.35 L195.65,355.00 L193.30,352.65 L195.65,350.30 L198.00,352.65 L200.35,350.30 L202.70,352.65 Z" fill="#f0aaa6" stroke="#fff" stroke-width="0.5"/>
<path d="M198.48,364.80 L200.96,367.28 L198.48,369.76 L196.00,367.28 L193.52,369.76 L191.04,367.28 L193.52,364.80 L191.04,362.32 L193.52,359.84 L196.00,362.32 L198.48,359.84 L200.96,362.32 Z" fill="#f0aaa6" stroke="#fff" stroke-width="0.5"/>
<path d="M218.58,370.40 L220.45,372.28 L218.58,374.15 L216.70,372.28 L214.82,374.15 L212.95,372.28 L214.82,370.40 L212.95,368.52 L214.82,366.65 L216.70,368.52 L218.58,366.65 L220.45,368.52 Z" fill="#f0aaa6" stroke="#fff" stroke-width="0.5"/>
<path d="M197.27,380.50 L200.04,383.27 L197.27,386.04 L194.50,383.27 L191.73,386.04 L188.96,383.27 L191.73,380.50 L188.96,377.73 L191.73,374.96 L194.50,377.73 L197.27,374.96 L200.04,377.73 Z" fill="#f0aaa6" stroke="#fff" stroke-width="0.5"/>
<path d="M248.92,347.10 L250.55,348.72 L248.92,350.35 L247.30,348.72 L245.68,350.35 L244.05,348.72 L245.68,347.10 L244.05,345.48 L245.68,343.85 L247.30,345.48 L248.92,343.85 L250.55,345.48 Z" fill="#f0aaa6" stroke="#fff" stroke-width="0.5"/>
<circle cx="109.9" cy="406.2" r="3.0" fill="#f0aaa6" stroke="#fff" stroke-width="0.5"/>
<circle cx="127.5" cy="423.4" r="3.6" fill="#f0aaa6" stroke="#fff" stroke-width="0.5"/>
<circle cx="146.2" cy="416.7" r="3.6" fill="#f0aaa6" stroke="#fff" stroke-width="0.5"/>
<circle cx="188.8" cy="408.2" r="3.6" fill="#f0aaa6" stroke="#fff" stroke-width="0.5"/>
<circle cx="207.0" cy="411.2" r="4.8" fill="#f0aaa6" stroke="#fff" stroke-width="0.5"/>
<circle cx="245.5" cy="380.8" r="4.8" fill="#f0aaa6" stroke="#fff" stroke-width="0.5"/>
<circle cx="260.3" cy="373.1" r="5.6" fill="#f0aaa6" stroke="#fff" stroke-width="0.5"/>
<circle cx="280.9" cy="377.4" r="4.4" fill="#f0aaa6" stroke="#fff" stroke-width="0.5"/>
<circle cx="301.1" cy="374.9" r="5.1" fill="#adc5f5" stroke="#fff" stroke-width="0.5"/>
<circle cx="359.8" cy="334.8" r="5.4" fill="#adc5f5" stroke="#fff" stroke-width="0.5"/>
<circle cx="365.8" cy="338.0" r="3.6" fill="#adc5f5" stroke="#fff" stroke-width="0.5"/>
<circle cx="369.8" cy="339.4" r="4.4" fill="#adc5f5" stroke="#fff" stroke-width="0.5"/>
<circle cx="377.9" cy="339.2" r="3.2" fill="#98dfae" stroke="#fff" stroke-width="0.5"/>
<circle cx="378.9" cy="314.1" r="2.8" fill="#98dfae" stroke="#fff" stroke-width="0.5"/>
<circle cx="396.6" cy="326.1" r="3.0" fill="#98dfae" stroke="#fff" stroke-width="0.5"/>
<circle cx="417.2" cy="311.6" r="3.3" fill="#98dfae" stroke="#fff" stroke-width="0.5"/>
<circle cx="428.9" cy="301.7" r="4.0" fill="#98dfae" stroke="#fff" stroke-width="0.5"/>
<circle cx="426.6" cy="314.2" r="3.6" fill="#98dfae" stroke="#fff" stroke-width="0.5"/>
<circle cx="430.8" cy="326.1" r="3.4" fill="#98dfae" stroke="#fff" stroke-width="0.5"/>
<circle cx="435.5" cy="310.8" r="4.8" fill="#f0aaa6" stroke="#fff" stroke-width="0.5"/>
<circle cx="444.9" cy="296.3" r="4.6" fill="#adc5f5" stroke="#fff" stroke-width="0.5"/>
<circle cx="447.4" cy="312.6" r="4.2" fill="#adc5f5" stroke="#fff" stroke-width="0.5"/>
<circle cx="452.5" cy="300.7" r="4.0" fill="#adc5f5" stroke="#fff" stroke-width="0.5"/>
<circle cx="452.2" cy="300.3" r="4.2" fill="#adc5f5" stroke="#fff" stroke-width="0.5"/>
<circle cx="457.6" cy="285.2" r="3.5" fill="#adc5f5" stroke="#fff" stroke-width="0.5"/>
<circle cx="460.6" cy="290.6" r="3.5" fill="#98dfae" stroke="#fff" stroke-width="0.5"/>
<circle cx="461.1" cy="296.7" r="3.5" fill="#f0aaa6" stroke="#fff" stroke-width="0.5"/>
<circle cx="470.1" cy="291.6" r="5.0" fill="#f0aaa6" stroke="#fff" stroke-width="0.5"/>
<circle cx="468.6" cy="294.6" r="4.5" fill="#adc5f5" stroke="#fff" stroke-width="0.5"/>
<circle cx="473.2" cy="285.0" r="3.0" fill="#f0aaa6" stroke="#fff" stroke-width="0.5"/>
<circle cx="485.4" cy="282.6" r="2.0" fill="#f0aaa6" stroke="#fff" stroke-width="0.5"/>
<circle cx="479.7" cy="285.0" r="4.5" fill="#98dfae" stroke="#fff" stroke-width="0.5"/>
<circle cx="481.5" cy="284.6" r="3.6" fill="#adc5f5" stroke="#fff" stroke-width="0.5"/>
<circle cx="489.3" cy="297.0" r="3.8" fill="#adc5f5" stroke="#fff" stroke-width="0.5"/>
<circle cx="483.2" cy="300.6" r="4.0" fill="#98dfae" stroke="#fff" stroke-width="0.5"/>
<circle cx="480.9" cy="290.5" r="4.8" fill="#98dfae" stroke="#fff" stroke-width="0.5"/>
<circle cx="488.6" cy="292.0" r="4.0" fill="#98dfae" stroke="#fff" stroke-width="0.5"/>
<circle cx="502.6" cy="293.0" r="2.6" fill="#98dfae" stroke="#fff" stroke-width="0.5"/>
<circle cx="500.3" cy="295.6" r="3.0" fill="#f0aaa6" stroke="#fff" stroke-width="0.5"/>
<circle cx="499.3" cy="293.3" r="3.3" fill="#f0aaa6" stroke="#fff" stroke-width="0.5"/>
<circle cx="495.4" cy="285.6" r="6.4" fill="#f0aaa6" stroke="#fff" stroke-width="0.5"/>
<path d="M458.08,317.20 L460.27,319.38 L458.08,321.57 L455.90,319.38 L453.72,321.57 L451.53,319.38 L453.72,317.20 L451.53,315.02 L453.72,312.83 L455.90,315.02 L458.08,312.83 L460.27,315.02 Z" fill="#98dfae" stroke="#fff" stroke-width="0.5"/>
<line x1="93.00" y1="446.20" x2="498.20" y2="286.00" stroke="#d0d0d0" stroke-width="2.2" stroke-dasharray="8.14,3.52" stroke-dashoffset="9.96"/>
<text x="58.60" y="449.90" font-size="11.5" fill="#242424" text-anchor="end" textLength="14.80" lengthAdjust="spacingAndGlyphs">0.0</text>
<text x="93.00" y="475.60" font-size="11.5" fill="#242424" text-anchor="middle" textLength="14.80" lengthAdjust="spacingAndGlyphs">0.0</text>
<text x="58.60" y="417.86" font-size="11.5" fill="#242424" text-anchor="end" textLength="14.80" lengthAdjust="spacingAndGlyphs">0.2</text>
<text x="174.04" y="475.60" font-size="11.5" fill="#242424" text-anchor="middle" textLength="14.80" lengthAdjust="spacingAndGlyphs">0.2</text>
<text x="58.60" y="385.82" font-size="11.5" fill="#242424" text-anchor="end" textLength="14.80" lengthAdjust="spacingAndGlyphs">0.4</text>
<text x="255.08" y="475.60" font-size="11.5" fill="#242424" text-anchor="middle" textLength="14.80" lengthAdjust="spacingAndGlyphs">0.4</text>
<text x="58.60" y="353.78" font-size="11.5" fill="#242424" text-anchor="end" textLength="14.80" lengthAdjust="spacingAndGlyphs">0.6</text>
<text x="336.12" y="475.60" font-size="11.5" fill="#242424" text-anchor="middle" textLength="14.80" lengthAdjust="spacingAndGlyphs">0.6</text>
<text x="58.60" y="321.74" font-size="11.5" fill="#242424" text-anchor="end" textLength="14.80" lengthAdjust="spacingAndGlyphs">0.8</text>
<text x="417.16" y="475.60" font-size="11.5" fill="#242424" text-anchor="middle" textLength="14.80" lengthAdjust="spacingAndGlyphs">0.8</text>
<text x="58.60" y="289.70" font-size="11.5" fill="#242424" text-anchor="end" textLength="14.80" lengthAdjust="spacingAndGlyphs">1.0</text>
<text x="498.20" y="475.60" font-size="11.5" fill="#242424" text-anchor="middle" textLength="14.80" lengthAdjust="spacingAndGlyphs">1.0</text>
<text x="214.0" y="493.8" font-size="13.8" textLength="162.6" lengthAdjust="spacingAndGlyphs">Initial Matching Rate <tspan font-style="italic">E</tspan>[<tspan font-style="italic">Q</tspan>]</text>
<text transform="translate(34.6,367.0) rotate(-90)" x="0" y="0" font-size="13.8" text-anchor="middle" textLength="125.5" lengthAdjust="spacingAndGlyphs">Matching Rate <tspan font-style="italic">E</tspan>[<tspan font-style="italic">Q</tspan>′]</text>
<text x="1.80" y="283.90" font-size="20" fill="#242424" font-weight="bold" textLength="9.60" lengthAdjust="spacingAndGlyphs">c</text>
<text x="557.50" y="295.30" font-size="11.4" fill="#242424" textLength="36.80" lengthAdjust="spacingAndGlyphs">Groups</text>
<circle cx="538.3" cy="305.5" r="4.1" fill="#98dfae" stroke="#fff" stroke-width="0.5"/>
<circle cx="538.3" cy="320.0" r="4.1" fill="#adc5f5" stroke="#fff" stroke-width="0.5"/>
<circle cx="538.3" cy="334.7" r="4.1" fill="#f0aaa6" stroke="#fff" stroke-width="0.5"/>
<path d="M567.90,306.40 L558.00,306.40 M559.80,303.40 Q558.75,305.50 557.70,306.40 Q558.75,307.30 559.80,309.40" fill="none" stroke="#5a97ae" stroke-width="0.85" stroke-linecap="round" stroke-linejoin="round"/>
<circle cx="572.00" cy="306.40" r="2.3" fill="#5c5c5c"/>
<circle cx="579.80" cy="306.40" r="2.3" fill="#5c5c5c"/>
<path d="M583.90,306.40 L593.80,306.40 M592.00,303.40 Q593.05,305.50 594.10,306.40 Q593.05,307.30 592.00,309.40" fill="none" stroke="#d8715c" stroke-width="0.85" stroke-linecap="round" stroke-linejoin="round"/>
<circle cx="560.20" cy="321.00" r="2.3" fill="#5c5c5c"/>
<circle cx="577.70" cy="321.00" r="2.3" fill="#5c5c5c"/>
<circle cx="560.20" cy="335.30" r="2.3" fill="#5c5c5c"/>
<path d="M563.80,335.30 L573.70,335.30 M571.90,332.30 Q572.95,334.40 574.00,335.30 Q572.95,336.20 571.90,338.30" fill="none" stroke="#d8715c" stroke-width="0.85" stroke-linecap="round" stroke-linejoin="round"/>
<path d="M585.90,335.30 L576.00,335.30 M577.80,332.30 Q576.75,334.40 575.70,335.30 Q576.75,336.20 577.80,338.30" fill="none" stroke="#5a97ae" stroke-width="0.85" stroke-linecap="round" stroke-linejoin="round"/>
<circle cx="589.80" cy="335.30" r="2.3" fill="#5c5c5c"/>
<text x="557.50" y="352.60" font-size="11.4" fill="#242424" textLength="70.90" lengthAdjust="spacingAndGlyphs">#Data Points</text>
<circle cx="538.2" cy="363.6" r="3.3" fill="#333"/>
<text x="557.50" y="367.40" font-size="11.4" fill="#242424" textLength="10.90" lengthAdjust="spacingAndGlyphs">25</text>
<circle cx="538.2" cy="378.0" r="4.5" fill="#333"/>
<text x="557.50" y="381.80" font-size="11.4" fill="#242424" textLength="10.90" lengthAdjust="spacingAndGlyphs">50</text>
<circle cx="538.2" cy="392.5" r="5.25" fill="#333"/>
<text x="557.50" y="396.30" font-size="11.4" fill="#242424" textLength="10.90" lengthAdjust="spacingAndGlyphs">75</text>
<circle cx="538.2" cy="407.0" r="5.8" fill="#333"/>
<text x="557.50" y="410.80" font-size="11.4" fill="#242424" textLength="16.35" lengthAdjust="spacingAndGlyphs">100</text>
<circle cx="538.2" cy="421.5" r="6.5" fill="#333"/>
<text x="557.50" y="425.30" font-size="11.4" fill="#242424" textLength="16.35" lengthAdjust="spacingAndGlyphs">125</text>
<text x="557.50" y="439.50" font-size="11.4" fill="#242424" textLength="101.60" lengthAdjust="spacingAndGlyphs">AI vs. Initial Guess</text>
<circle cx="538.3" cy="450.7" r="4.0" fill="#333"/>
<text x="557.50" y="454.20" font-size="11.4" fill="#242424" textLength="29.20" lengthAdjust="spacingAndGlyphs">Agree</text>
<path d="M540.30,465.20 L542.30,467.20 L540.30,469.20 L538.30,467.20 L536.30,469.20 L534.30,467.20 L536.30,465.20 L534.30,463.20 L536.30,461.20 L538.30,463.20 L540.30,461.20 L542.30,463.20 Z" fill="#333"/>
<text x="557.50" y="468.90" font-size="11.4" fill="#242424" textLength="43.20" lengthAdjust="spacingAndGlyphs">Disagree</text>
<line x1="528.2" y1="479.4" x2="548.4" y2="479.4" stroke="#d0d0d0" stroke-width="2.2" stroke-dasharray="8.14,3.52"/>
<text x="557.50" y="483.10" font-size="11.4" fill="#242424" textLength="20.60" lengthAdjust="spacingAndGlyphs">x=y</text>
</svg></body></html>
